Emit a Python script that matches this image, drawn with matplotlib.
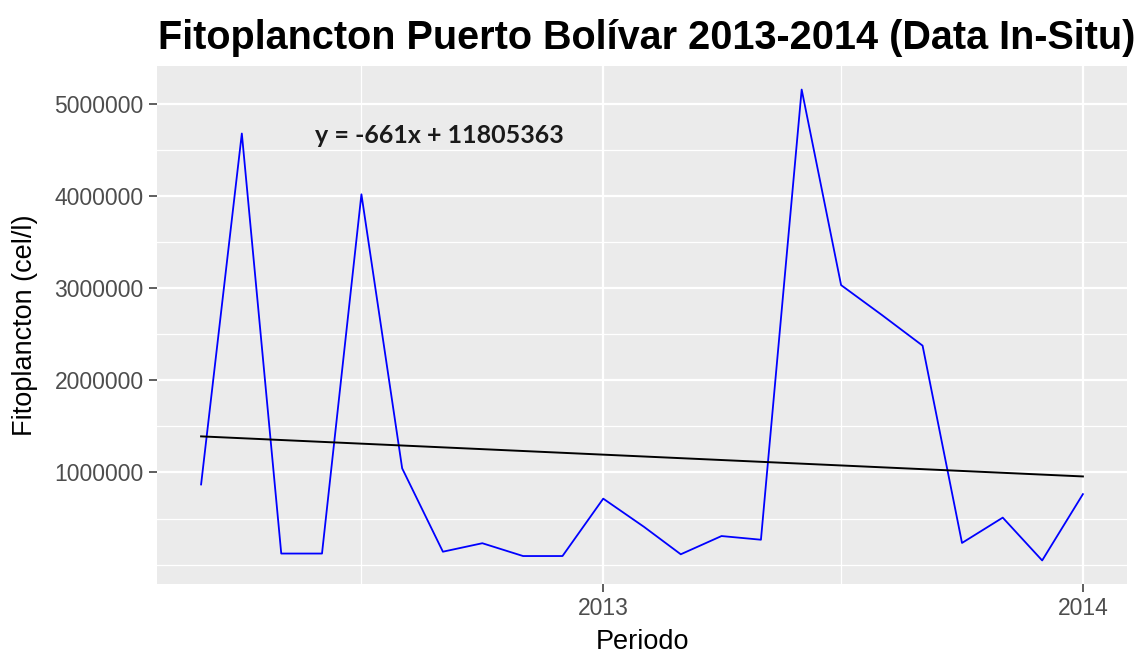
import matplotlib
matplotlib.use("Agg")
import matplotlib.pyplot as plt
import matplotlib.dates as mdates
import numpy as np

# monthly samples, March 2012 - January 2014
months = np.arange("2012-03", "2014-02", dtype="datetime64[M]").astype("datetime64[D]")
fito = [870000, 4680000, 120000, 120000, 4020000, 1045000, 140000, 232000,
        93000, 93000, 716000, 410000, 112000, 310000, 270000, 5157000,
        3034000, 2710000, 2377000, 235000, 510000, 45000, 765000]
# linear trend as drawn, at first and last sample
trend = [1392000, 957000]
year_ticks = ["2013-01-01", "2014-01-01"]
year_labels = ["2013", "2014"]
half_years = ["2012-07-01", "2013-07-01"]
y_ticks = [1000000, 2000000, 3000000, 4000000, 5000000]
y_minor = [0, 500000, 1500000, 2500000, 3500000, 4500000]
equation = "y = -661x + 11805363"

x = mdates.date2num(months.astype("datetime64[s]").astype(object))
y = np.array(fito, dtype=float)

fig = plt.figure(figsize=(11.4, 6.54), dpi=100)
ax = fig.add_axes([157 / 1140, 70 / 654, 970 / 1140, 518 / 654])
ax.set_facecolor("#EBEBEB")
for s in ax.spines.values():
    s.set_visible(False)

# ggplot-like 5% expansion
xr = x.max() - x.min()
ax.set_xlim(x.min() - 0.05 * xr, x.max() + 0.05 * xr)
yr = y.max() - y.min()
ax.set_ylim(y.min() - 0.05 * yr, y.max() + 0.05 * yr)

xt = mdates.date2num([np.datetime64(d).astype(object) for d in year_ticks])
xm = mdates.date2num([np.datetime64(d).astype(object) for d in half_years])
ax.set_xticks(xt)
ax.set_xticklabels(year_labels)
ax.set_xticks(xm, minor=True)
ax.set_yticks(y_ticks)
ax.set_yticklabels([str(v) for v in y_ticks])
ax.set_yticks(y_minor, minor=True)

ax.grid(which="major", color="white", linewidth=1.6)
ax.grid(which="minor", color="white", linewidth=0.9)
ax.set_axisbelow(True)
ax.tick_params(which="major", length=5.5, width=1.1, color="#333333",
               labelsize=16.5, labelcolor="#4D4D4D", pad=4)
ax.tick_params(which="minor", length=0)
for lab in ax.get_xticklabels() + ax.get_yticklabels():
    lab.set_family("Liberation Sans")

ax.plot(x, y, color="blue", linewidth=1.3)
ax.plot([x[0], x[-1]], trend, color="black", linewidth=1.4)

ax.text(mdates.date2num(np.datetime64("2012-05-27").astype(object)), 4.66e6, equation,
        fontsize=18, fontweight="bold", family="Lato", color="#1a1a1a",
        ha="left", va="center")

ax.set_xlabel("Periodo", fontsize=19.5, family="Liberation Sans", labelpad=6)
ax.set_ylabel("Fitoplancton (cel/l)", fontsize=19.5, family="Liberation Sans", labelpad=12)

fig.text(158 / 1140, 1 - 38 / 654, "Fitoplancton Puerto Bolívar 2013-2014 (Data In-Situ)",
         fontsize=28.5, fontweight="bold", family="Liberation Sans",
         ha="left", va="center")

fig.savefig("out.png", dpi=100)
